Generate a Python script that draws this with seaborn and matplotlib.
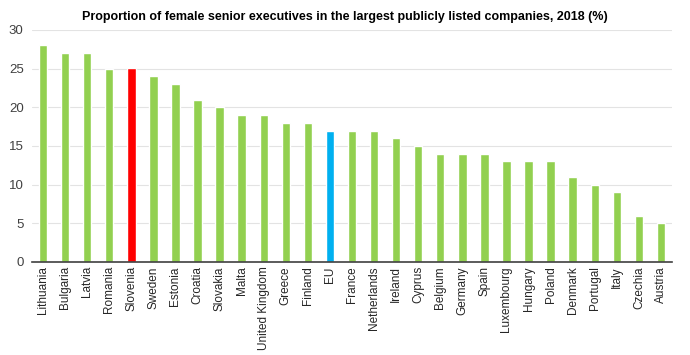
import matplotlib
matplotlib.use("Agg")
import matplotlib.pyplot as plt
import seaborn as sns
import pandas as pd

countries = ['Lithuania', 'Bulgaria', 'Latvia', 'Romania', 'Slovenia', 'Sweden',
             'Estonia', 'Croatia', 'Slovakia', 'Malta', 'United Kingdom', 'Greece',
             'Finland', 'EU', 'France', 'Netherlands', 'Ireland', 'Cyprus', 'Belgium',
             'Germany', 'Spain', 'Luxembourg', 'Hungary', 'Poland', 'Denmark',
             'Portugal', 'Italy', 'Czechia', 'Austria']
shares = [28, 27, 27, 25, 25.1, 24, 23, 21, 20, 19, 19, 18, 18, 17, 17, 17, 16, 15,
          14, 14, 14, 13, 13, 13, 11, 10, 9, 6, 5]

GREEN = '#92D050'
highlight = {'Slovenia': '#FF0000', 'EU': '#00B0F0'}
palette = {c: highlight.get(c, GREEN) for c in countries}

df = pd.DataFrame({'country': countries, 'share': shares})

sns.set_theme(style="whitegrid")
plt.rcParams['font.family'] = ['Liberation Sans', 'DejaVu Sans']

fig = plt.figure(figsize=(6.9, 3.55), dpi=100)
ax = fig.add_axes([32 / 690, 1 - 262 / 355, 640 / 690, 232 / 355])

sns.barplot(data=df, x='country', y='share', hue='country', palette=palette,
            width=0.38, legend=False, saturation=1, ax=ax)

ax.set_xlim(-0.5, len(countries) - 0.5)
ax.set_ylim(0, 30)
ax.set_yticks(range(0, 31, 5))
ax.set_xlabel('')
ax.set_ylabel('')
ax.tick_params(axis='x', rotation=90, labelsize=8.5, colors='#262626', pad=3, length=0)
ax.tick_params(axis='y', labelsize=9.5, colors='#404040', pad=6, length=0)
ax.grid(axis='y', color='#E3E3E3', linewidth=0.8)
ax.grid(axis='x', visible=False)
for side in ['left', 'right', 'top']:
    ax.spines[side].set_visible(False)
ax.spines['bottom'].set_color('#404040')
ax.spines['bottom'].set_linewidth(1.2)

fig.text(0.5, 1 - 17 / 355,
         'Proportion of female senior executives in the largest publicly listed companies, 2018 (%)',
         ha='center', va='center', fontsize=9, fontweight='bold', color='black')

fig.savefig('out.png', dpi=100)
